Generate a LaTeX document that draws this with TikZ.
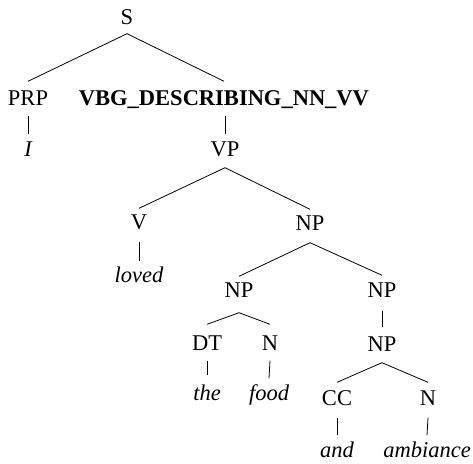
\documentclass[tikz,border=0pt]{standalone}
\usepackage{fontspec}
\setmainfont{Liberation Serif}
\newfontfamily\treefont{Liberation Serif}
\begin{document}
\begin{tikzpicture}[x=1pt,y=-1pt,
  lbl/.style={anchor=base,inner sep=0pt,text height=0pt,text depth=0pt,
    font=\treefont\fontsize{22.5}{27}\selectfont},
  word/.style={lbl,font=\treefont\fontsize{22.5}{27}\selectfont\itshape},
  branch/.style={line width=0.8pt,black}]
\useasboundingbox (0,0) rectangle (473,463);
% category labels (placed by their baselines)
\node[lbl] (s)   at (127,24)  {S};
\node[lbl] (prp) at (28,105)  {PRP};
\node[lbl,font=\treefont\fontsize{22.5}{27}\selectfont\bfseries] (vbg) at (224,105) {VBG\_DESCRIBING\_NN\_VV};
\node[lbl] (vp)  at (225,156) {VP};
\node[lbl] (v)   at (139,229) {V};
\node[lbl] (np1) at (310,230) {NP};
\node[lbl] (np2) at (239,297) {NP};
\node[lbl] (np3) at (382,297) {NP};
\node[lbl] (dt)  at (207,350) {DT};
\node[lbl] (n1)  at (270,350) {N};
\node[lbl] (np4) at (382,351) {NP};
\node[lbl] (cc)  at (337,405) {CC};
\node[lbl] (n2)  at (428,405) {N};
% words
\node[word] (wi)    at (28,156)  {I};
\node[word] (wlov)  at (139,282) {loved};
\node[word] (wthe)  at (207,400) {the};
\node[word] (wfood) at (269,400) {food};
\node[word] (wand)  at (337,457) {and};
\node[word] (wamb)  at (427,457) {ambiance};
% branch: gap below the parent's baseline, gap above the child's baseline
\newcommand\branchto[5][0pt]{\draw[branch] ([yshift=-#4,xshift=#1]#2.south) -- ([yshift=#5]#3.north);}
\branchto{s}{prp}{9pt}{23pt}
\branchto{s}{vbg}{9pt}{23pt}
\branchto{prp}{wi}{10pt}{21pt}
\branchto[1pt]{vbg}{vp}{10pt}{21pt}
\branchto{vp}{v}{11pt}{20pt}
\branchto{vp}{np1}{11pt}{20pt}
\branchto{v}{wlov}{12pt}{20pt}
\branchto{np1}{np2}{12pt}{20pt}
\branchto{np1}{np3}{12pt}{21pt}
\branchto{np3}{np4}{13pt}{23pt}
\branchto{np2}{dt}{15pt}{25pt}
\branchto{np2}{n1}{15pt}{25pt}
\branchto{dt}{wthe}{10pt}{24pt}
\branchto{n1}{wfood}{10pt}{21pt}
\branchto{np4}{cc}{11pt}{22pt}
\branchto{np4}{n2}{11pt}{22pt}
\branchto{cc}{wand}{12pt}{21pt}
\branchto{n2}{wamb}{12pt}{21pt}
\end{tikzpicture}
\end{document}
